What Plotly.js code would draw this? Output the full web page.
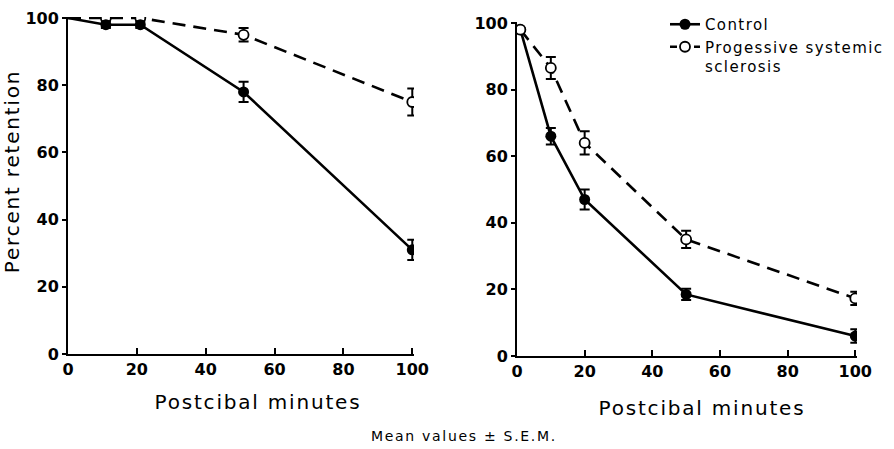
<!DOCTYPE html>
<html>
<head>
<meta charset="utf-8">
<script src="https://cdn.plot.ly/plotly-3.0.1.min.js"></script>
<style>
  html, body { margin: 0; padding: 0; background: #fff; }
  #chart { width: 894px; height: 449px; }
  .xtitle, .x2title, .ytitle { letter-spacing: 1.8px; }
  .xtitle { translate: 17px 3px; }
  .x2title { translate: 15px 7px; }
  .ytitle { translate: 4px -14px; }
  .legendtext { letter-spacing: 1.4px; }
  .annotation-text { letter-spacing: 1.7px; }
  .legend .traces:nth-of-type(2) .js-line { stroke-dasharray: 7px, 5px !important; }
</style>
</head>
<body>
<div id="chart"></div>
<script>
// ---- Data ----
// Left panel
const leftMinutes = [0, 11, 21, 51, 100];
const leftControl = [100, 98, 98, 78, 31];
const leftControlErr = [0, 1, 1, 3, 3];
const leftPSS = [100, 100, 100, 95, 75];
const leftPSSErr = [0, 0, 0, 2, 4];

// Right panel
const rightMinutes = [1, 10, 20, 50, 100];
const rightControl = [98, 66, 47, 18.5, 6];
const rightControlErr = [0, 2.5, 3, 1.7, 2];
const rightPSS = [98, 86.5, 64, 35, 17.3];
const rightPSSErr = [0, 3.3, 3.5, 2.6, 2];

const xTicks = [0, 20, 40, 60, 80, 100];
const yTicks = [0, 20, 40, 60, 80, 100];
const seriesNames = ['Control', 'Progessive systemic<br>sclerosis'];

// ---- Styling ----
const black = '#000';
function markerSizes(n, hideFirst, s) {
  return Array.from({length: n}, (_, i) => (hideFirst && i === 0) ? 0 : s);
}
function controlTrace(x, y, err, xa, ya, showLegend, hideFirst) {
  return {
    x: x, y: y, xaxis: xa, yaxis: ya, type: 'scatter', mode: 'lines+markers',
    name: seriesNames[0], showlegend: showLegend,
    line: {color: black, width: 2.6, dash: 'solid'},
    marker: {color: black, size: markerSizes(x.length, hideFirst, 11), symbol: 'circle',
             opacity: 1, line: {color: black, width: 0}},
    error_y: {type: 'data', array: err, visible: true, color: black, thickness: 2, width: 5}
  };
}
function pssTrace(x, y, err, xa, ya, showLegend, hideFirst) {
  return {
    x: x, y: y, xaxis: xa, yaxis: ya, type: 'scatter', mode: 'lines+markers',
    name: seriesNames[1], showlegend: showLegend,
    line: {color: black, width: 2.6, dash: '13px,8px'},
    marker: {color: '#fff', size: markerSizes(x.length, hideFirst, 10), symbol: 'circle',
             opacity: 1, line: {color: black, width: 1.8}},
    error_y: {type: 'data', array: err, visible: true, color: black, thickness: 2, width: 5}
  };
}

const traces = [
  controlTrace(rightMinutes, rightControl, rightControlErr, 'x2', 'y2', true, false),
  pssTrace(rightMinutes, rightPSS, rightPSSErr, 'x2', 'y2', true, false),
  pssTrace(leftMinutes, leftPSS, leftPSSErr, 'x', 'y', false, true),
  controlTrace(leftMinutes, leftControl, leftControlErr, 'x', 'y', false, true)
];

const tickFont = {family: 'DejaVu Sans', size: 16, color: black, weight: 'bold'};
const titleFont = {family: 'DejaVu Sans', size: 20, color: black};

function xAxis(domain, anchor) {
  return {
    domain: domain, anchor: anchor, range: [0, 100.5],
    tickvals: xTicks, ticktext: xTicks.map(String),
    ticks: 'inside', ticklen: 6, tickwidth: 2, tickcolor: black,
    showline: true, linecolor: black, linewidth: 2,
    showgrid: false, zeroline: false,
    tickfont: tickFont,
    title: {text: 'Postcibal minutes', font: titleFont, standoff: 14}
  };
}
function yAxis(domain, anchor, withTitle) {
  const a = {
    domain: domain, anchor: anchor, range: [0, 100.3],
    tickvals: yTicks, ticktext: yTicks.map(String),
    ticks: 'outside', ticklen: 4, tickwidth: 2, tickcolor: black,
    showline: true, linecolor: black, linewidth: 2,
    showgrid: false, zeroline: false,
    tickfont: tickFont
  };
  if (withTitle) a.title = {text: 'Percent retention', font: titleFont, standoff: 6};
  return a;
}

const layout = {
  width: 894, height: 449,
  margin: {l: 0, r: 0, t: 0, b: 0},
  paper_bgcolor: '#fff', plot_bgcolor: '#fff',
  xaxis: xAxis([68/894, 414/894], 'y'),
  yaxis: yAxis([95/449, 432/449], 'x', true),
  xaxis2: xAxis([517/894, 857/894], 'y2'),
  yaxis2: yAxis([93/449, 427/449], 'x2', false),
  showlegend: true,
  legend: {
    x: 665/894, y: 1 - 8/449, xanchor: 'left', yanchor: 'top',
    bgcolor: 'rgba(0,0,0,0)', borderwidth: 0,
    font: {family: 'DejaVu Sans', size: 15, color: black},
    valign: 'top', tracegroupgap: 0, itemwidth: 30
  },
  annotations: [{
    text: 'Mean values ± S.E.M.', xref: 'paper', yref: 'paper',
    x: 464/894, y: 1 - 436/449, xanchor: 'center', yanchor: 'middle',
    showarrow: false, font: {family: 'DejaVu Sans', size: 14, color: black}
  }]
};

Plotly.newPlot('chart', traces, layout, {displayModeBar: false, staticPlot: true});
</script>
</body>
</html>
